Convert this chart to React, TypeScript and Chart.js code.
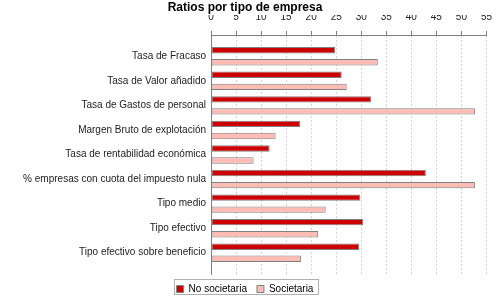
import React, { useEffect, useRef } from "react";
import { Chart, registerables } from "chart.js";

Chart.register(...registerables);

const categories = [
  "Tasa de Fracaso",
  "Tasa de Valor añadido",
  "Tasa de Gastos de personal",
  "Margen Bruto de explotación",
  "Tasa de rentabilidad económica",
  "% empresas con cuota del impuesto nula",
  "Tipo medio",
  "Tipo efectivo",
  "Tipo efectivo sobre beneficio",
];
const noSocietaria = [24.8, 26.1, 32.0, 17.8, 11.7, 42.9, 29.8, 30.4, 29.6];
const societaria = [33.3, 27.1, 52.7, 12.9, 8.5, 52.7, 22.9, 21.4, 18.0];
const seriesNames = ["No societaria", "Societaria"];
const title = "Ratios por tipo de empresa";

const FONT = "'Liberation Sans', Arial, sans-serif";
const CAT_MARGIN = 0.366;

const legendFrame = {
  id: "legendFrame",
  afterDraw(chart: any) {
    const lg = chart.legend;
    if (!lg || !lg.legendHitBoxes || !lg.legendHitBoxes.length) return;
    const hb = lg.legendHitBoxes;
    let l = Infinity, r = -Infinity, t = Infinity;
    hb.forEach((h: any) => {
      l = Math.min(l, h.left);
      r = Math.max(r, h.left + h.width);
      t = Math.min(t, h.top);
    });
    const ctx = chart.ctx;
    ctx.save();
    ctx.strokeStyle = "#b0b0b0";
    ctx.lineWidth = 1;
    ctx.strokeRect(Math.round(l - 3) + 0.5, Math.round(t - 5) + 0.5, Math.round(r - l + 7), 15);
    ctx.restore();
  },
};

export default function App() {
  const ref = useRef<HTMLCanvasElement>(null);
  useEffect(() => {
    if (!ref.current) return;
    const chart = new Chart(ref.current, {
      type: "bar",
      data: {
        labels: categories,
        datasets: [
          {
            label: seriesNames[0],
            data: noSocietaria,
            backgroundColor: "#cc0000",
            borderColor: "#808080",
            borderWidth: 1,
            borderSkipped: false,
            barPercentage: 0.53,
            categoryPercentage: 0.98,
          },
          {
            label: seriesNames[1],
            data: societaria,
            backgroundColor: "rgb(255,188,180)",
            borderColor: "#808080",
            borderWidth: 1,
            borderSkipped: false,
            barPercentage: 0.53,
            categoryPercentage: 0.98,
          },
        ],
      },
      plugins: [legendFrame],
      options: {
        indexAxis: "y",
        responsive: false,
        animation: false,
        layout: { padding: { left: 0, right: 10, top: 0, bottom: -4 } },
        plugins: {
          title: {
            display: true,
            text: title,
            color: "#000",
            font: { family: FONT, size: 12, weight: "bold", lineHeight: 14 / 12 },
            padding: { top: 1, bottom: 0 },
          },
          legend: {
            position: "bottom",
            labels: {
              boxWidth: 7,
              boxHeight: 7,
              padding: 10,
              color: "#000",
              font: { family: FONT, size: 10 },
            },
          },
          tooltip: { enabled: false },
        },
        scales: {
          x: {
            position: "top",
            min: 0,
            max: 55,
            ticks: {
              stepSize: 5,
              color: "#222",
              padding: 8,
              font: { family: FONT, size: 10 },
            },
            grid: {
              color: "#d4d4d4",
              tickColor: "#808080",
              tickLength: 4,
              tickBorderDash: [],
            } as any,
            border: { display: true, color: "#808080", dash: [2, 2] } as any,
            afterFit(scale: any) {
              scale.height = 20;
            },
          },
          y: {
            type: "category",
            offset: true,
            grid: { color: "rgba(0,0,0,0)", drawTicks: false },
            border: { display: true, color: "#808080" },
            ticks: {
              color: "#222",
              padding: 5,
              autoSkip: false,
              font: { family: FONT, size: 10 },
            },
            afterFit(scale: any) {
              scale.width = 211;
            },
            afterBuildTicks(scale: any) {
              scale._startValue = -0.5 - CAT_MARGIN;
              scale._valueRange = categories.length + 2 * CAT_MARGIN;
            },
          },
        },
      } as any,
    });
    return () => chart.destroy();
  }, []);
  return (
    <div style={{ position: "fixed", left: 0, top: 0, width: 500, height: 300, background: "#fff" }}>
      <canvas ref={ref} width={500} height={300} style={{ width: 500, height: 300, display: "block" }} />
    </div>
  );
}
